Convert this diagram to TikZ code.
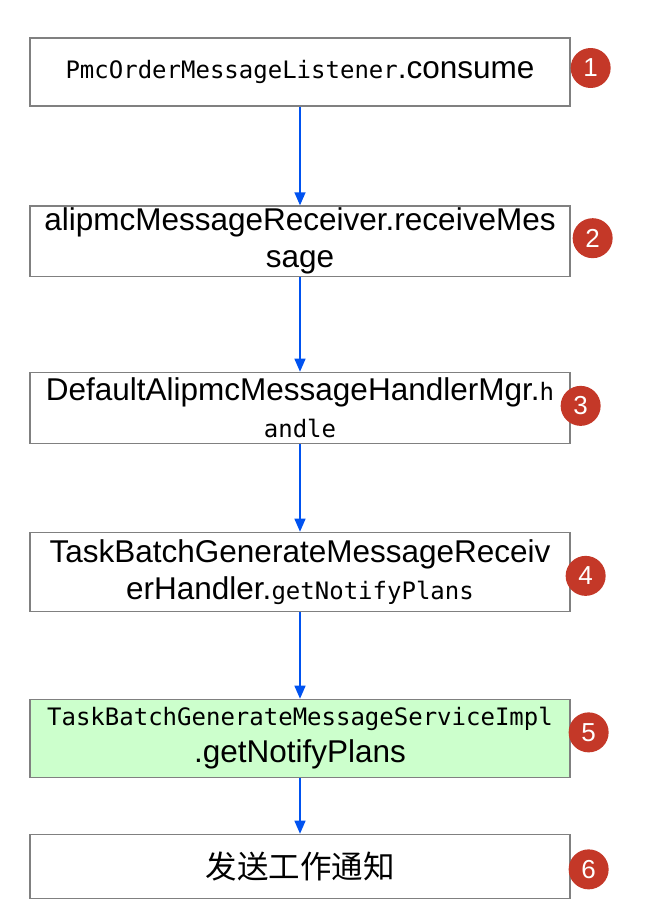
\documentclass[tikz,border=0pt]{standalone}
\usepackage{fontspec}
\setmainfont{Liberation Sans}
\setmonofont{DejaVu Sans Mono}
\newfontfamily\cjk{Noto Sans CJK SC}
\usepackage{tikz}
\usetikzlibrary{arrows.meta,positioning,calc}
\definecolor{edge}{RGB}{128,128,128}
\definecolor{callblue}{RGB}{0,82,240}
\definecolor{hot}{RGB}{204,255,204}
\definecolor{badgered}{RGB}{196,56,40}
\newcommand{\bigf}{\fontsize{31.5}{37}\selectfont}
\newcommand{\codef}{\fontsize{24}{37}\selectfont\ttfamily}
\tikzset{call/.style={draw=edge,line width=1.3pt,minimum width=540pt,align=center,fill=white,inner sep=2pt,font=\bigf},
hotcall/.style={call,fill=hot},
badge/.style={circle,fill=badgered,text=white,minimum size=40pt,inner sep=0pt,font=\fontsize{26}{26}\selectfont},
flow/.style={-{Triangle[length=13pt,width=11pt]},line width=1.3pt,draw=callblue}}
\begin{document}
\begin{tikzpicture}[node distance=100pt]
\useasboundingbox (0,0) rectangle (646pt,-924pt);
\node[call,minimum height=68pt] (consume) at (300pt,-72pt) {{\codef PmcOrderMessageListener}.consume};
\node[call,minimum height=69pt,below=98.7pt of consume] (receive) {alipmcMessageReceiver.receiveMes\\sage};
\node[call,minimum height=71pt,below=94.7pt of receive] (mgr) {DefaultAlipmcMessageHandlerMgr.{\codef h}\\{\codef andle}};
\node[call,minimum height=79pt,below=87.7pt of mgr] (handler) {TaskBatchGenerateMessageReceiv\\erHandler.{\codef getNotifyPlans}};
\node[hotcall,minimum height=78pt,below=86.7pt of handler] (service) {{\codef TaskBatchGenerateMessageServiceImpl}\\.getNotifyPlans};
\node[call,minimum height=64pt,below=55.7pt of service] (notify) {\cjk 发送工作通知};
% numbered markers
\node[badge] (m1) at ($(consume.east)+(20pt,4pt)$) {1};
\node[badge] (m2) at ($(receive.east)+(22pt,3pt)$) {2};
\node[badge] (m3) at ($(mgr.east)+(10pt,2pt)$) {3};
\node[badge] (m4) at ($(handler.east)+(15pt,-4pt)$) {4};
\node[badge] (m5) at ($(service.east)+(18pt,6pt)$) {5};
\node[badge] (m6) at ($(notify.east)+(18pt,-3pt)$) {6};
\draw[flow] (consume)--(receive);
\draw[flow] (receive)--(mgr);
\draw[flow] (mgr)--(handler);
\draw[flow] (handler)--(service);
\draw[flow] (service)--(notify);
\end{tikzpicture}
\end{document}
